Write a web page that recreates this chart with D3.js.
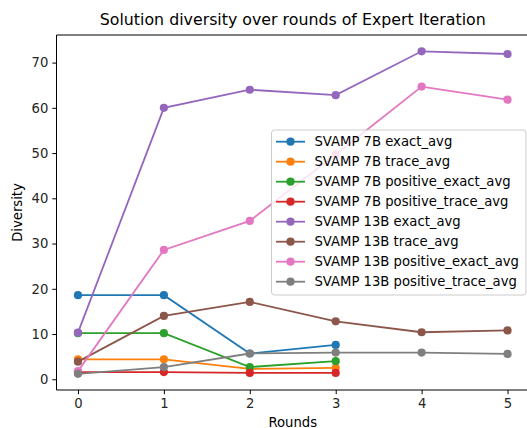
<!DOCTYPE html>
<html><head><meta charset="utf-8">
<script src="https://cdn.jsdelivr.net/npm/d3@7"></script>
<style>body{margin:0;background:#fff}svg{display:block;font-family:"DejaVu Sans",sans-serif}</style>
</head><body><svg id="c" width="527" height="428"></svg>
<script>
const rounds = [0,1,2,3,4,5];
const seriesNames = ["SVAMP 7B exact_avg","SVAMP 7B trace_avg","SVAMP 7B positive_exact_avg","SVAMP 7B positive_trace_avg","SVAMP 13B exact_avg","SVAMP 13B trace_avg","SVAMP 13B positive_exact_avg","SVAMP 13B positive_trace_avg"];
const colors = ["#1f77b4","#ff7f0e","#2ca02c","#d62728","#9467bd","#8c564b","#e377c2","#7f7f7f"];
const v7bExact = [18.6,18.6,5.7,7.6];
const v7bTrace = [4.4,4.4,2.3,2.5];
const v7bPosExact = [10.2,10.2,2.7,4.0];
const v7bPosTrace = [1.6,1.6,1.4,1.4];
const v13bExact = [10.3,60.0,64.0,62.8,72.5,71.9];
const v13bTrace = [3.9,14.0,17.1,12.8,10.4,10.8];
const v13bPosExact = [1.8,28.6,35.0,49.7,64.7,61.8];
const v13bPosTrace = [1.2,2.7,5.7,5.9,5.9,5.6];
const yTicks = [0,10,20,30,40,50,60,70];
const allSeries = [v7bExact,v7bTrace,v7bPosExact,v7bPosTrace,v13bExact,v13bTrace,v13bPosExact,v13bPosTrace];

const svg = d3.select("#c");
const L=56.5, R=529, T=35, B=390;
const x = d3.scaleLinear().domain([-0.25,5.25]).range([L,R]);
const y = d3.scaleLinear().domain([-2.37,76.1]).range([B,T]);
const fs = 13.2;

// axes
const gx = svg.append("g").attr("transform",`translate(0,${B})`)
  .call(d3.axisBottom(x).tickValues(rounds).tickFormat(d3.format("d")).tickSize(4.2).tickPadding(4));
const gy = svg.append("g").attr("transform",`translate(${L},0)`)
  .call(d3.axisLeft(y).tickValues(yTicks).tickSize(4.2).tickPadding(4));
[gx,gy].forEach(g=>{
  g.select(".domain").remove();
  g.selectAll("text").attr("font-size",fs).attr("font-family","DejaVu Sans").attr("fill","#262626");
  g.selectAll("line").attr("stroke","#000").attr("stroke-width",1);
});
// spines
svg.append("line").attr("x1",L).attr("x2",L).attr("y1",T).attr("y2",B).attr("stroke","#000").attr("stroke-width",1);
svg.append("line").attr("x1",L).attr("x2",R).attr("y1",B).attr("y2",B).attr("stroke","#000").attr("stroke-width",1);
svg.append("line").attr("x1",L).attr("x2",R).attr("y1",T).attr("y2",T).attr("stroke","#000").attr("stroke-width",1);

// lines
const line = d3.line().x((d,i)=>x(rounds[i])).y(d=>y(d));
allSeries.forEach((s,k)=>{
  const g = svg.append("g");
  g.append("path").attr("d",line(s)).attr("fill","none").attr("stroke",colors[k]).attr("stroke-width",1.8);
  g.selectAll("circle").data(s).join("circle")
    .attr("cx",(d,i)=>x(rounds[i])).attr("cy",d=>y(d)).attr("r",4.1).attr("fill",colors[k]);
});

// title and labels
svg.append("text").attr("x",(L+R)/2).attr("y",25).attr("text-anchor","middle")
  .attr("font-size",15.8).attr("fill","#000").text("Solution diversity over rounds of Expert Iteration");
svg.append("text").attr("x",(L+R)/2).attr("y",426.5).attr("text-anchor","middle")
  .attr("font-size",fs).attr("fill","#000").text("Rounds");
svg.append("text").attr("transform",`translate(21.5,${(T+B)/2}) rotate(-90)`).attr("text-anchor","middle")
  .attr("font-size",fs).attr("fill","#000").text("Diversity");

// legend
const lg = svg.append("g");
lg.append("rect").attr("x",271.5).attr("y",130).attr("width",254.5).attr("height",165).attr("rx",3)
  .attr("fill","#fff").attr("fill-opacity",0.8).attr("stroke","#cccccc").attr("stroke-width",1);
seriesNames.forEach((n,k)=>{
  const cy = 141.7 + k*20;
  lg.append("line").attr("x1",276).attr("x2",305).attr("y1",cy).attr("y2",cy).attr("stroke",colors[k]).attr("stroke-width",1.8);
  lg.append("circle").attr("cx",290.5).attr("cy",cy).attr("r",4.1).attr("fill",colors[k]);
  lg.append("text").attr("x",314.5).attr("y",cy+4.6).attr("font-size",fs).attr("fill","#000").text(n);
});
</script></body></html>
